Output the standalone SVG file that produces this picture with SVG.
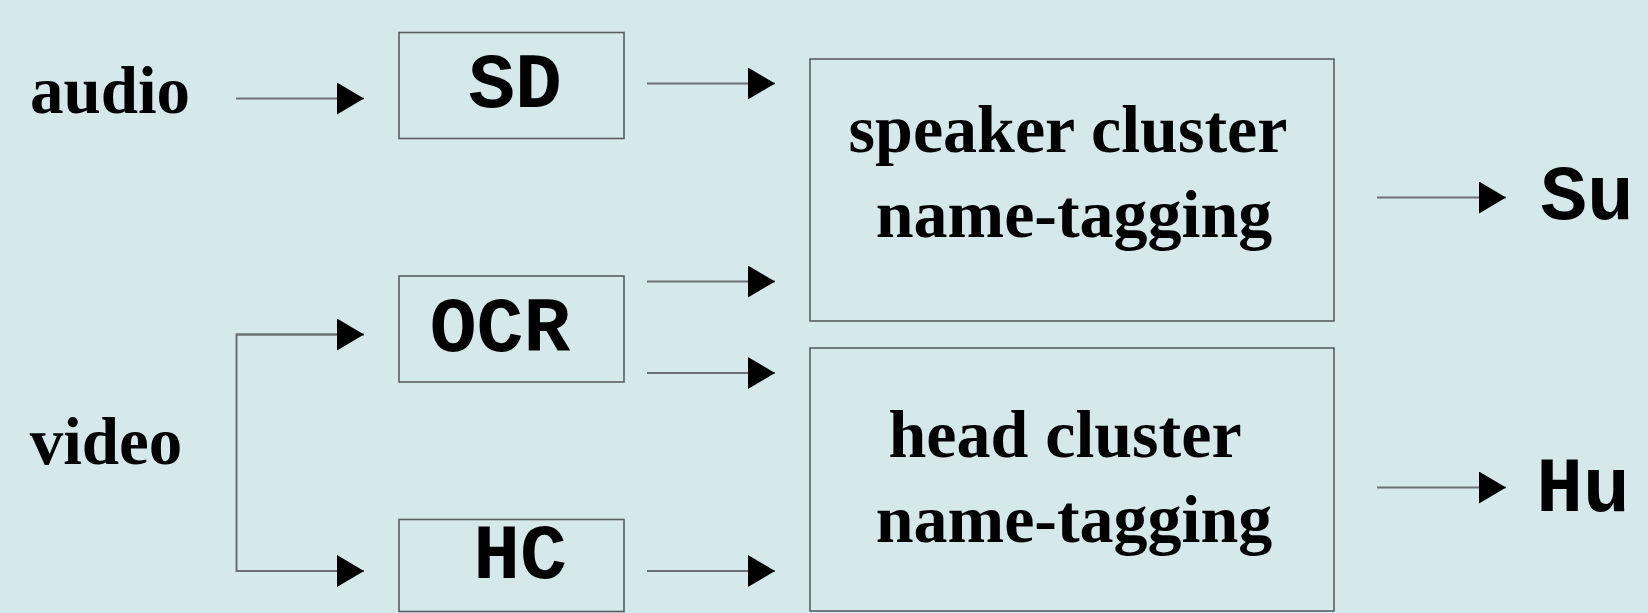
<svg xmlns="http://www.w3.org/2000/svg" width="1648" height="613" viewBox="0 0 1648 613">
  <style>
    .box { fill: none; stroke: #5a5e60; stroke-width: 1.6; }
    .wire { fill: none; stroke: #6c7072; stroke-width: 2; }
    .serif { font-family: "Liberation Serif", "Times New Roman", serif; font-weight: bold; fill: #000; text-anchor: middle; }
    .mono { font-family: "Liberation Mono", "Courier New", monospace; font-weight: bold; fill: #000; text-anchor: middle; font-size: 78px; }
  </style>
  <defs>
    <marker id="head" markerUnits="userSpaceOnUse" markerWidth="27" markerHeight="32" refX="27" refY="16" orient="auto">
      <path d="M0,0 L27,16 L0,32 Z" fill="#000"/>
    </marker>
  </defs>

  <rect width="1648" height="613" fill="#d6e9ea"/>

  <!-- inputs -->
  <g id="audio"><text class="serif" x="110" y="113" font-size="67">audio</text></g>
  <g id="video"><text class="serif" x="106" y="464" font-size="67">video</text></g>

  <!-- detectors -->
  <g id="sd">
    <rect class="box" x="399" y="32.5" width="225" height="106"/>
    <text class="mono" x="515" y="107">SD</text>
  </g>
  <g id="ocr">
    <rect class="box" x="399" y="276" width="225" height="106"/>
    <text class="mono" x="500" y="351">OCR</text>
  </g>
  <g id="hc">
    <rect class="box" x="399" y="519.5" width="225" height="92"/>
    <text class="mono" x="520" y="578">HC</text>
  </g>

  <!-- name-tagging stages -->
  <g id="speaker-tagging">
    <rect class="box" x="810" y="59" width="524" height="262"/>
    <text class="serif" x="1068" y="152" font-size="68">speaker cluster</text>
    <text class="serif" x="1074" y="237" font-size="68">name-tagging</text>
  </g>
  <g id="head-tagging">
    <rect class="box" x="810" y="348" width="524" height="263"/>
    <text class="serif" x="1065" y="457" font-size="68">head cluster</text>
    <text class="serif" x="1074" y="542" font-size="68">name-tagging</text>
  </g>

  <!-- outputs -->
  <g id="su"><text class="mono" x="1587" y="219">Su</text></g>
  <g id="hu"><text class="mono" x="1583" y="511">Hu</text></g>

  <!-- connectors -->
  <g id="connectors">
    <line class="wire" x1="236" y1="98.5" x2="364" y2="98.5" marker-end="url(#head)"/>
    <polyline class="wire" points="364,334.5 236.5,334.5 236.5,571 364,571" marker-end="url(#head)"/>
    <line class="wire" x1="236" y1="334.5" x2="364" y2="334.5" marker-end="url(#head)"/>
    <line class="wire" x1="647" y1="83.5" x2="775" y2="83.5" marker-end="url(#head)"/>
    <line class="wire" x1="647" y1="281.5" x2="775" y2="281.5" marker-end="url(#head)"/>
    <line class="wire" x1="647" y1="373" x2="775" y2="373" marker-end="url(#head)"/>
    <line class="wire" x1="647" y1="571" x2="775" y2="571" marker-end="url(#head)"/>
    <line class="wire" x1="1377" y1="197.5" x2="1506" y2="197.5" marker-end="url(#head)"/>
    <line class="wire" x1="1377" y1="487.5" x2="1506" y2="487.5" marker-end="url(#head)"/>
  </g>
</svg>
